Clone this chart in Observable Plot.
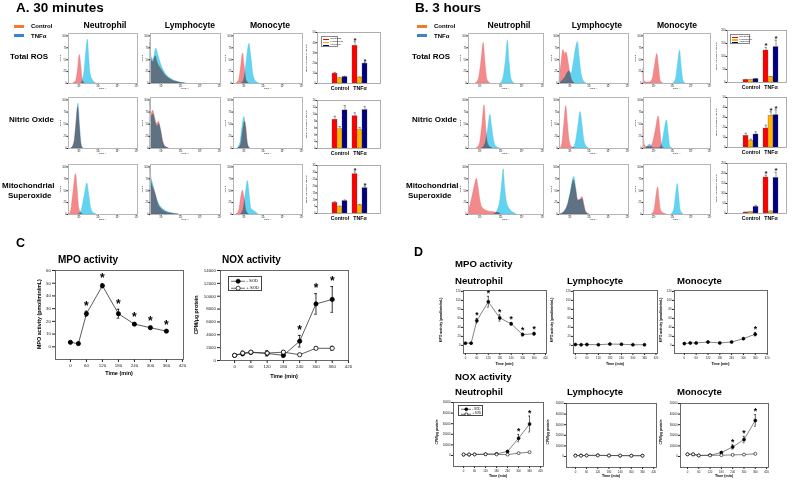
<!DOCTYPE html>
<html><head><meta charset="utf-8">
<script src="https://cdn.jsdelivr.net/npm/d3@7"></script>
<script src="https://cdn.jsdelivr.net/npm/@observablehq/plot@0.6"></script>
<style>
body{margin:0;background:#fff;}
#root{position:relative;width:797px;height:482px;overflow:hidden;background:#fff;font-family:"Liberation Sans",Arial,Helvetica,sans-serif;}
.t{position:absolute;white-space:nowrap;color:#000;line-height:1;}
</style></head><body><div id="root"></div>
<script>
// ---------------- DATA ----------------
const cells = ["Neutrophil", "Lymphocyte", "Monocyte"];
const groups = ["Control", "TNFα"];
const rowsLabels = ["Total ROS", "Nitric Oxide", "Mitochondrial Superoxide"];
const times = [0, 30, 60, 120, 180, 240, 300, 360];
const timeTicks = [0, 60, 120, 180, 240, 300, 360, 420];
const decadeTicks = [2, 3, 4, 5];

// Flow histograms: [log10 intensity, % of max count]
const A_ROS_Neu_ctl = [[1.7,0],[1.85,5],[1.95,30],[2.04,60],[2.12,35],[2.2,5],[2.3,0]];
const A_ROS_Neu_tnf = [[2.15,0],[2.3,30],[2.4,75],[2.46,92],[2.52,60],[2.6,20],[2.75,5],[2.9,0]];
const A_ROS_Lym_ctl = [[1.45,85],[1.5,50],[1.6,45],[1.72,57],[1.8,45],[2.0,30],[2.2,18],[2.5,8],[2.8,3],[3.2,0]];
const A_ROS_Lym_tnf = [[1.45,93],[1.5,55],[1.6,50],[1.75,73],[1.85,60],[2.0,40],[2.2,22],[2.5,10],[2.8,4],[3.3,0]];
const A_ROS_Mon_ctl = [[1.6,0],[1.75,8],[1.85,35],[1.95,63],[2.02,40],[2.12,8],[2.25,0]];
const A_ROS_Mon_tnf = [[1.9,0],[2.05,15],[2.15,50],[2.28,83],[2.38,55],[2.5,15],[2.65,3],[2.8,0]];
const A_NO_Neu_ctl = [[1.6,0],[1.75,10],[1.85,45],[1.95,85],[2.03,50],[2.12,10],[2.2,0]];
const A_NO_Neu_tnf = [[1.62,0],[1.78,15],[1.88,55],[1.97,92],[2.05,45],[2.13,8],[2.22,0]];
const A_NO_Lym_ctl = [[1.45,95],[1.5,70],[1.58,78],[1.68,65],[1.78,50],[1.88,55],[1.98,40],[2.1,15],[2.25,3],[2.4,0]];
const A_NO_Lym_tnf = [[1.45,97],[1.5,65],[1.6,70],[1.7,55],[1.8,45],[1.9,50],[2.0,35],[2.1,12],[2.25,2],[2.4,0]];
const A_NO_Mon_ctl = [[1.7,0],[1.85,8],[1.95,35],[2.05,55],[2.12,45],[2.2,10],[2.3,0]];
const A_NO_Mon_tnf = [[1.65,0],[1.8,10],[1.92,45],[2.02,65],[2.1,40],[2.2,8],[2.3,0]];
const A_MT_Neu_ctl = [[1.5,0],[1.6,10],[1.72,50],[1.84,85],[1.92,55],[2.0,15],[2.1,3],[2.2,0]];
const A_MT_Neu_tnf = [[2.0,0],[2.15,10],[2.3,40],[2.43,65],[2.52,45],[2.62,15],[2.75,3],[2.9,0]];
const A_MT_Lym_ctl = [[1.45,95],[1.5,70],[1.6,55],[1.72,42],[1.85,22],[2.0,12],[2.2,6],[2.5,2],[2.9,0]];
const A_MT_Lym_tnf = [[1.45,100],[1.5,75],[1.58,65],[1.7,45],[1.85,25],[2.0,15],[2.2,8],[2.5,3],[2.9,0]];
const A_MT_Mon_ctl = [[1.6,0],[1.75,8],[1.85,35],[1.94,50],[2.02,35],[2.12,8],[2.25,0]];
const A_MT_Mon_tnf = [[1.85,0],[2.0,15],[2.1,45],[2.2,70],[2.28,45],[2.38,12],[2.5,8],[2.6,5],[2.75,0]];
const B_ROS_Neu_ctl = [[1.8,0],[1.95,10],[2.08,50],[2.18,85],[2.26,45],[2.36,8],[2.5,0]];
const B_ROS_Neu_tnf = [[3.0,0],[3.12,10],[3.25,50],[3.34,90],[3.42,45],[3.52,8],[3.65,0]];
const B_ROS_Lym_ctl = [[1.45,10],[1.55,40],[1.65,70],[1.75,62],[1.82,65],[1.9,50],[2.0,25],[2.1,8],[2.25,0]];
const B_ROS_Lym_tnf = [[1.45,0],[1.6,5],[1.75,12],[1.95,25],[2.08,20],[2.2,45],[2.32,75],[2.41,87],[2.5,55],[2.6,20],[2.75,3],[2.85,0]];
const B_ROS_Mon_ctl = [[1.45,30],[1.5,5],[1.6,2],[1.8,2],[1.95,10],[2.08,40],[2.19,62],[2.28,35],[2.38,5],[2.5,0]];
const B_ROS_Mon_tnf = [[3.05,0],[3.2,10],[3.32,45],[3.41,69],[3.5,35],[3.6,5],[3.7,0]];
const B_NO_Neu_ctl = [[1.85,0],[2.0,10],[2.12,50],[2.22,89],[2.28,55],[2.36,15],[2.45,5],[2.6,0]];
const B_NO_Neu_tnf = [[2.1,0],[2.25,8],[2.38,35],[2.5,69],[2.58,45],[2.68,15],[2.8,3],[2.95,0]];
const B_NO_Lym_ctl = [[1.5,0],[1.6,10],[1.7,50],[1.8,87],[1.88,55],[1.98,15],[2.1,3],[2.25,0]];
const B_NO_Lym_tnf = [[2.15,0],[2.3,12],[2.45,50],[2.55,75],[2.63,55],[2.75,15],[2.9,2],[3.0,0]];
const B_NO_Mon_ctl = [[1.45,45],[1.5,10],[1.6,3],[1.8,3],[1.95,10],[2.1,35],[2.27,66],[2.36,35],[2.45,5],[2.55,0]];
const B_NO_Mon_tnf = [[1.6,0],[1.7,5],[1.8,8],[1.9,3],[2.0,0],[2.3,0],[2.45,8],[2.6,40],[2.71,58],[2.8,30],[2.9,3],[3.0,0]];
const B_MT_Neu_ctl = [[1.45,5],[1.55,20],[1.68,45],[1.78,65],[1.85,75],[1.92,60],[2.0,35],[2.1,15],[2.3,8],[2.6,5],[2.9,3],[3.0,0]];
const B_MT_Neu_tnf = [[2.7,0],[2.85,8],[2.98,30],[3.08,70],[3.14,95],[3.2,60],[3.3,25],[3.45,10],[3.6,4],[3.75,0]];
const B_MT_Lym_ctl = [[1.5,0],[1.7,5],[1.9,20],[2.05,45],[2.2,72],[2.3,55],[2.42,30],[2.55,32],[2.65,37],[2.75,20],[2.85,5],[3.0,0]];
const B_MT_Lym_tnf = [[1.5,0],[1.7,5],[1.9,22],[2.05,50],[2.22,79],[2.32,55],[2.42,28],[2.55,30],[2.66,32],[2.75,15],[2.85,3],[3.0,0]];
const B_MT_Mon_ctl = [[1.9,0],[2.05,10],[2.15,40],[2.24,57],[2.3,35],[2.4,8],[2.55,2],[2.7,0]];
const B_MT_Mon_tnf = [[2.95,0],[3.1,10],[3.2,40],[3.29,64],[3.36,40],[3.45,8],[3.6,0]];

// Mean fluorescent intensity bars: order Control N,L,M then TNFα N,L,M
const A_ROS_bar = [9.7, 5.0, 6.3, 37, 5.8, 19.5];
const A_ROS_err = [1.2, 0.5, 0.8, 4, 0.6, 1];
const A_ROS_sig = [0, 0, 0, 1, 0, 1];
const A_NO_bar = [8.4, 5.6, 11.1, 9.4, 5.4, 11.2];
const A_NO_err = [1, 0.8, 1.4, 1, 0.7, 1];
const A_NO_sig = [0, 0, 0, 0, 0, 0];
const A_MT_bar = [7.8, 4.7, 9, 28.6, 5.9, 18.4];
const A_MT_err = [0.8, 0.7, 0.8, 1.7, 0.7, 1.2];
const A_MT_sig = [0, 0, 0, 1, 0, 1];
const B_ROS_bar = [10, 10, 13, 123, 20, 136];
const B_ROS_err = [2, 2, 2, 12, 3, 27];
const B_ROS_sig = [0, 0, 0, 1, 0, 1];
const B_NO_bar = [11.7, 6.7, 13, 19, 31.7, 32.3];
const B_NO_err = [2.6, 1.6, 2.7, 3.3, 4, 5.4];
const B_NO_sig = [0, 0, 0, 0, 1, 1];
const B_MT_bar = [5, 6.7, 33, 180, 10, 178];
const B_MT_err = [1.5, 1.5, 8, 12, 2, 28];
const B_MT_sig = [0, 0, 0, 1, 0, 1];

// Panel C
const C_MPO = [3.5, 2.5, 26, 48, 26, 17.8, 15, 12.3];
const C_MPO_err = [0.6, 1, 2, 1.5, 3.5, 0.8, 0.8, 0.7];
const C_MPO_sig = [0, 0, 1, 1, 1, 1, 1, 1];
const C_NOX_minusSOD = [800, 1050, 1250, 1100, 800, 3000, 8800, 9500];
const C_NOX_minusSOD_err = [150, 300, 200, 400, 300, 900, 1600, 2000];
const C_NOX_plusSOD = [800, 1150, 1300, 1150, 1300, 900, 1900, 1900];
const C_NOX_plusSOD_err = [100, 300, 200, 300, 200, 100, 200, 300];
const C_NOX_sig = [0, 0, 0, 0, 0, 1, 1, 1];

// Panel D
const D_MPO_Neu = [5, 5, 55, 97, 61, 48, 24, 26];
const D_MPO_Neu_err = [1, 1, 5, 12, 7, 3, 3, 3];
const D_MPO_Neu_sig = [0, 0, 1, 1, 1, 1, 1, 1];
const D_MPO_Lym = [2, 1.5, 2, 1.5, 3, 2.5, 1.5, 1.5];
const D_MPO_Lym_err = [0.5, 0.5, 0.5, 0.5, 0.5, 0.5, 0.5, 0.5];
const D_MPO_Lym_sig = [0, 0, 0, 0, 0, 0, 0, 0];
const D_MPO_Mon = [4, 5.5, 5.5, 7.5, 5.5, 7.5, 15, 25];
const D_MPO_Mon_err = [1, 1, 1, 1.5, 1, 1, 1.5, 4];
const D_MPO_Mon_sig = [0, 0, 0, 0, 0, 0, 0, 1];
const D_NOX_Neu_minusSOD = [800, 800, 1000, 1200, 1500, 3800, 16300, 29700];
const D_NOX_Neu_minusSOD_err = [200, 200, 200, 300, 400, 800, 3400, 7500];
const D_NOX_Neu_plusSOD = [1000, 1000, 1000, 1200, 1000, 800, 2200, 3100];
const D_NOX_Neu_sig = [0, 0, 0, 0, 0, 0, 1, 1];
const D_NOX_Lym_minusSOD = [900, 900, 1000, 1100, 900, 800, 700, 700];
const D_NOX_Lym_plusSOD = [800, 800, 900, 1000, 900, 900, 800, 800];
const D_NOX_Lym_sig = [0, 0, 0, 0, 0, 0, 0, 0];
const D_NOX_Mon_minusSOD = [2100, 2000, 900, 1200, 3700, 9000, 16000, 34000];
const D_NOX_Mon_minusSOD_err = [200, 200, 200, 200, 600, 2000, 3000, 5500];
const D_NOX_Mon_plusSOD = [2000, 2000, 1000, 1000, 1200, 1500, 1800, 2500];
const D_NOX_Mon_sig = [0, 0, 0, 0, 0, 1, 1, 1];

// ---------------- HELPERS ----------------
const FONT = '"Liberation Sans", Arial, Helvetica, sans-serif';
const root = document.getElementById("root");
const PINK = "#f4898b", PINK_S = "#e36d70", CYAN = "#62d4f2", CYAN_S = "#3fbde0";
const BAR_COLORS = ["#ff0000", "#ffb300", "#000080"];
const plain = d => String(d);

function txt(s, x, base, size, bold, anchor) {
  const d = document.createElement("div");
  d.className = "t"; d.textContent = s;
  d.style.fontSize = size + "px";
  d.style.left = x + "px";
  d.style.top = (base - 0.85 * size) + "px";
  if (bold) d.style.fontWeight = "bold";
  if (anchor === "middle") d.style.transform = "translateX(-50%)";
  root.append(d);
  return d;
}
function vtxt(s, x, yc, size, bold) {
  const d = document.createElement("div");
  d.className = "t"; d.textContent = s;
  d.style.fontSize = size + "px";
  d.style.left = x + "px"; d.style.top = yc + "px";
  d.style.transform = "translate(-50%,-50%) rotate(-90deg)";
  if (bold) d.style.fontWeight = "bold";
  root.append(d);
}
function place(frame, m, opts) {
  const [x0, y0, x1, y1] = frame;
  const [mt, mr, mb, ml] = m;
  const svg = Plot.plot({
    width: x1 - x0 + ml + mr, height: y1 - y0 + mt + mb,
    marginTop: mt, marginRight: mr, marginBottom: mb, marginLeft: ml,
    style: {fontFamily: FONT, background: "transparent", overflow: "visible", fontSize: (opts.fs || 4) + "px", color: "#222"},
    ...opts
  });
  svg.style.position = "absolute";
  svg.style.left = (x0 - ml) + "px";
  svg.style.top = (y0 - mt) + "px";
  svg.style.maxWidth = "none";
  root.append(svg);
  return svg;
}

function hist(frame, ctl, tnf) {
  const sup = {2: "10²", 3: "10³", 4: "10⁴", 5: "10⁵"};
  place(frame, [1, 1, 6, 9], {
    fs: 2.6,
    x: {domain: [1.45, 5.05], ticks: decadeTicks, tickFormat: d => sup[d], tickSize: 1.5, tickPadding: 0.5, label: null},
    y: {domain: [0, 105], ticks: [0, 25, 50, 75, 100], tickFormat: plain, tickSize: 1.5, tickPadding: 0.5, label: null},
    marks: [
      Plot.areaY(ctl, {x: d => d[0], y: d => d[1], curve: "monotone-x", fill: PINK, stroke: PINK_S, strokeWidth: 0.4, mixBlendMode: "multiply"}),
      Plot.areaY(tnf, {x: d => d[0], y: d => d[1], curve: "monotone-x", fill: CYAN, stroke: CYAN_S, strokeWidth: 0.4, mixBlendMode: "multiply"}),
      Plot.frame({stroke: "#b5b5b5", strokeWidth: 1})
    ]
  });
  txt("FITC-A", (frame[0] + frame[2]) / 2, frame[3] + 7, 2.4, false, "middle");
  vtxt("Count", frame[0] - 7, (frame[1] + frame[3]) / 2, 2.4, false);
}

function barChart(frame, vals, errs, sig, yMax, yStep, inset, legend) {
  const keys = [];
  groups.forEach(g => cells.forEach(c => keys.push(g + "·" + c)));
  const domain = [...keys.slice(0, 3), " ", ...keys.slice(3)];
  const data = keys.map((k, i) => ({k, cell: cells[i % 3], v: vals[i], e: errs[i], s: sig[i]}));
  place(frame, [1, 1, 12, 12], {
    fs: 2.6,
    x: {domain, axis: null, paddingInner: 0.06, paddingOuter: 0, insetLeft: inset[0], insetRight: inset[1]},
    y: {domain: [0, yMax], ticks: d3.range(0, yMax + 1e-9, yStep), tickFormat: plain, tickSize: 1.5, tickPadding: 0.5, label: null},
    color: {domain: cells, range: BAR_COLORS},
    marks: [
      Plot.ruleX(data, {x: "k", y1: "v", y2: d => d.v + d.e, stroke: "#333", strokeWidth: 0.5}),
      Plot.tickY(data, {x: "k", y: d => d.v + d.e, stroke: "#333", strokeWidth: 0.5, insetLeft: 1.5, insetRight: 1.5}),
      Plot.barY(data, {x: "k", y: "v", fill: "cell", stroke: "#555", strokeWidth: 0.3}),
      Plot.text(data.filter(d => d.s), {x: "k", y: d => d.v + d.e, text: () => "*", fontSize: 8, fontWeight: "bold", dy: -1.5}),
      Plot.text(groups, {x: g => g + "·Lymphocyte", frameAnchor: "bottom", dy: 6, text: d => d, fontSize: 5.2, fontWeight: "bold", fill: "#000"}),
      Plot.frame({stroke: "#999", strokeWidth: 0.8})
    ]
  });
  vtxt("Mean fluorescent intensity", frame[0] - 10, (frame[1] + frame[3]) / 2, 2.4, false);
  if (legend) {
    const [lx, ly, lw, lh] = legend;
    const box = document.createElement("div");
    box.style.cssText = `position:absolute;left:${lx}px;top:${ly}px;width:${lw}px;height:${lh}px;border:0.5px solid #888;background:#fff;box-sizing:border-box;`;
    cells.forEach((c, i) => {
      const row = document.createElement("div");
      row.style.cssText = `position:absolute;left:1px;top:${1 + i * (lh - 2) / 3}px;height:${(lh - 2) / 3}px;display:flex;align-items:center;font-size:2.4px;line-height:1;white-space:nowrap;`;
      row.innerHTML = `<span style="display:inline-block;width:6px;height:1.4px;background:${BAR_COLORS[i]};margin-right:1.5px"></span>${c}`;
      box.append(row);
    });
    root.append(box);
  }
}

function lineChart(frame, xDom, yDom, yTicks, series, sig, o) {
  const marks = [];
  series.forEach((s, si) => {
    const D = times.map((t, i) => ({t, v: s.v[i], e: s.e ? s.e[i] : 0}));
    const E = D.filter(d => d.e > 0);
    marks.push(
      Plot.line(D, {x: "t", y: "v", stroke: "#333", strokeWidth: o.lw}),
      Plot.ruleX(E, {x: "t", y1: d => d.v - d.e, y2: d => d.v + d.e, stroke: "#000", strokeWidth: o.lw}),
      Plot.ruleY(E, {x1: d => d.t - o.cap, x2: d => d.t + o.cap, y: d => d.v + d.e, stroke: "#000", strokeWidth: o.lw}),
      Plot.ruleY(E, {x1: d => d.t - o.cap, x2: d => d.t + o.cap, y: d => d.v - d.e, stroke: "#000", strokeWidth: o.lw}),
      Plot.dot(D, {x: "t", y: "v", r: o.r, fill: s.fill, stroke: "#000", strokeWidth: o.lw})
    );
  });
  const top = series[0];
  const S = times.map((t, i) => ({t, y: top.v[i] + (top.e ? top.e[i] : 0), s: sig[i]})).filter(d => d.s);
  marks.push(Plot.text(S, {x: "t", y: "y", text: () => "*", fontSize: o.sf, fontWeight: "bold", dy: o.sdy, fill: "#000"}));
  marks.push(Plot.frame({stroke: "#444", strokeWidth: 0.8}));
  place(frame, [2, 2, o.mb, o.ml], {
    fs: o.fs,
    x: {domain: xDom, ticks: timeTicks, tickFormat: plain, tickSize: o.ts, tickPadding: o.tp, label: null},
    y: {domain: yDom, ticks: yTicks, tickFormat: plain, tickSize: o.ts, tickPadding: o.tp, label: null},
    marks
  });
}

function sodLegend(x, y, w, h, fs) {
  const box = document.createElement("div");
  box.style.cssText = `position:absolute;left:${x}px;top:${y}px;width:${w}px;height:${h}px;border:0.6px solid #444;background:#fff;box-sizing:border-box;`;
  const rows = [["- SOD", "#000"], ["+ SOD", "#fff"]];
  const sw = w * 0.42, rh = (h - 2) / 2, rr = Math.min(rh * 0.32, 2.2);
  rows.forEach(([lab, fill], i) => {
    const row = document.createElement("div");
    row.style.cssText = `position:absolute;left:1.5px;top:${1 + i * rh}px;height:${rh}px;display:flex;align-items:center;font-size:${fs}px;line-height:1;white-space:nowrap;`;
    row.innerHTML = `<svg width="${sw}" height="${rh}" style="margin-right:${fs * 0.4}px"><line x1="0" x2="${sw}" y1="${rh / 2}" y2="${rh / 2}" stroke="#333" stroke-width="0.7"/><circle cx="${sw / 2}" cy="${rh / 2}" r="${rr}" fill="${fill}" stroke="#000" stroke-width="0.7"/></svg>${lab}`;
    box.append(row);
  });
  root.append(box);
}

// ---------------- PANEL A & B ----------------
function legendCB(x, top) {
  const mk = (col, y) => {
    const d = document.createElement("div");
    d.style.cssText = `position:absolute;left:${x}px;top:${y}px;width:10px;height:3px;background:${col};`;
    root.append(d);
  };
  mk("#f07a30", top); mk("#3f7fd6", top + 9.5);
  txt(groups[0], x + 17, top + 4, 6, true);
  txt(groups[1], x + 17, top + 13.5, 6, true);
}

txt("A. 30 minutes", 16, 12.5, 13.5, true);
txt("B. 3 hours", 415, 12.5, 13.5, true);
legendCB(14, 24.5);
legendCB(417, 24.5);

const colA = [[68, 137], [150, 220], [233, 302]];
const colB = [[468, 543], [559, 628], [643, 710]];
const rowY = [[33, 83], [97, 148], [164, 214]];
const headA = [105, 190, 270], headB = [509, 597, 677];
cells.forEach((c, i) => { txt(c, headA[i], 28, 8.6, true, "middle"); txt(c, headB[i], 28, 8.6, true, "middle"); });

[[10, 412, 60, "Total ROS"], [9, 412, 123, "Nitric Oxide"]].forEach(([xa, xb, y, s]) => { txt(s, xa, y, 8, true); txt(s, xb, y, 8, true); });
txt("Mitochondrial", 2, 189, 8, true); txt("Superoxide", 8, 198.5, 8, true);
txt("Mitochondrial", 406, 189, 8, true); txt("Superoxide", 408, 198.5, 8, true);

const histsA = [
  [[A_ROS_Neu_ctl, A_ROS_Neu_tnf], [A_ROS_Lym_ctl, A_ROS_Lym_tnf], [A_ROS_Mon_ctl, A_ROS_Mon_tnf]],
  [[A_NO_Neu_ctl, A_NO_Neu_tnf], [A_NO_Lym_ctl, A_NO_Lym_tnf], [A_NO_Mon_ctl, A_NO_Mon_tnf]],
  [[A_MT_Neu_ctl, A_MT_Neu_tnf], [A_MT_Lym_ctl, A_MT_Lym_tnf], [A_MT_Mon_ctl, A_MT_Mon_tnf]]
];
const histsB = [
  [[B_ROS_Neu_ctl, B_ROS_Neu_tnf], [B_ROS_Lym_ctl, B_ROS_Lym_tnf], [B_ROS_Mon_ctl, B_ROS_Mon_tnf]],
  [[B_NO_Neu_ctl, B_NO_Neu_tnf], [B_NO_Lym_ctl, B_NO_Lym_tnf], [B_NO_Mon_ctl, B_NO_Mon_tnf]],
  [[B_MT_Neu_ctl, B_MT_Neu_tnf], [B_MT_Lym_ctl, B_MT_Lym_tnf], [B_MT_Mon_ctl, B_MT_Mon_tnf]]
];
rowY.forEach(([y0, y1], r) => {
  colA.forEach(([x0, x1], c) => hist([x0, y0, x1, y1], histsA[r][c][0], histsA[r][c][1]));
  colB.forEach(([x0, x1], c) => hist([x0, y0, x1, y1], histsB[r][c][0], histsB[r][c][1]));
});

barChart([317, 32, 380, 83], A_ROS_bar, A_ROS_err, A_ROS_sig, 50, 10, [12, 10], [321, 36, 17, 11]);
barChart([317, 100, 380, 148], A_NO_bar, A_NO_err, A_NO_sig, 14, 2, [12, 10]);
barChart([317, 165, 380, 213], A_MT_bar, A_MT_err, A_MT_sig, 35, 5, [12, 10]);
barChart([727, 30, 786, 82], B_ROS_bar, B_ROS_err, B_ROS_sig, 200, 50, [13, 5], [730, 34, 20, 10]);
barChart([727, 97, 786, 147], B_NO_bar, B_NO_err, B_NO_sig, 50, 10, [13, 5]);
barChart([727, 163, 786, 213], B_MT_bar, B_MT_err, B_MT_sig, 250, 50, [13, 5]);

// ---------------- PANEL C ----------------
txt("C", 16, 248, 12.5, true);
txt("MPO activity", 58, 263, 10, true);
txt("NOX activity", 222, 263, 10, true);
const optC = {lw: 0.8, cap: 5, r: 2.1, sf: 12, sdy: -5.5, fs: 4.4, ts: 3, tp: 1.5, mb: 10, ml: 16};
lineChart([55, 270, 183, 359], [-56, 424], [-10, 60], d3.range(0, 61, 10),
  [{v: C_MPO, e: C_MPO_err, fill: "#000"}], C_MPO_sig, optC);
lineChart([220, 270, 348, 360], [-52, 420], [0, 14000], d3.range(0, 14001, 2000),
  [{v: C_NOX_minusSOD, e: C_NOX_minusSOD_err, fill: "#000"}, {v: C_NOX_plusSOD, e: C_NOX_plusSOD_err, fill: "#fff"}], C_NOX_sig, optC);
sodLegend(228, 276, 34, 15, 4.2);
txt("Time (min)", 119, 376, 5.5, true, "middle");
txt("Time (min)", 284, 379, 5.5, true, "middle");
vtxt("MPO activity (pmol/min/mL)", 40, 314, 5.3, true);
vtxt("CPM/μg protein", 197, 315, 5.3, true);

// ---------------- PANEL D ----------------
txt("D", 414, 257, 12.5, true);
txt("MPO activity", 455, 267, 9.6, true);
txt("NOX activity", 455, 380, 9.6, true);
[[455, 567, 677]].forEach(xs => cells.forEach((c, i) => { txt(c, xs[i], 284, 9.6, true); txt(c, xs[i], 395.5, 9.6, true); }));
const optD = {lw: 0.6, cap: 5, r: 1.5, sf: 8.5, sdy: -3, fs: 2.8, ts: 2, tp: 1, mb: 8, ml: 12};
const mpoFrames = [[463, 290, 546, 353], [573, 290, 657, 353], [674, 290, 767, 353]];
const mpoDoms = [[-10, 425], [-10, 428], [-50, 422]];
const mpoVals = [[D_MPO_Neu, D_MPO_Neu_err, D_MPO_Neu_sig], [D_MPO_Lym, D_MPO_Lym_err, D_MPO_Lym_sig], [D_MPO_Mon, D_MPO_Mon_err, D_MPO_Mon_sig]];
mpoFrames.forEach((f, i) => {
  lineChart(f, mpoDoms[i], [-18, 122], d3.range(0, 121, 20), [{v: mpoVals[i][0], e: mpoVals[i][1], fill: "#000"}], mpoVals[i][2], optD);
  txt("Time (min)", (f[0] + f[2]) / 2, 366, 3.6, true, "middle");
});
vtxt("MPO activity (pmol/min/mL)", 442, 320, 3.4, true);
vtxt("MPO activity (pmol/min/mL)", 553, 320, 3.4, true);
vtxt("MPO activity (pmol/min/mL)", 662, 320, 3.4, true);

const noxFrames = [[453, 402, 543, 466], [566, 403, 656, 467], [680, 403, 768, 467]];
const noxDoms = [[-55, 436], [-48, 435], [-37, 430]];
const noxVals = [
  [D_NOX_Neu_minusSOD, D_NOX_Neu_minusSOD_err, D_NOX_Neu_plusSOD, D_NOX_Neu_sig],
  [D_NOX_Lym_minusSOD, null, D_NOX_Lym_plusSOD, D_NOX_Lym_sig],
  [D_NOX_Mon_minusSOD, D_NOX_Mon_minusSOD_err, D_NOX_Mon_plusSOD, D_NOX_Mon_sig]
];
noxFrames.forEach((f, i) => {
  lineChart(f, noxDoms[i], [-10400, 50000], d3.range(0, 50001, 10000),
    [{v: noxVals[i][0], e: noxVals[i][1], fill: "#000"}, {v: noxVals[i][2], fill: "#fff"}], noxVals[i][3], optD);
  txt("Time (min)", (f[0] + f[2]) / 2, 478, 3.6, true, "middle");
});
sodLegend(458, 405, 25, 11, 3);
vtxt("CPM/μg protein", 438, 432, 3.4, true);
vtxt("CPM/μg protein", 549, 432, 3.4, true);
vtxt("CPM/μg protein", 662, 432, 3.4, true);
</script></body></html>
